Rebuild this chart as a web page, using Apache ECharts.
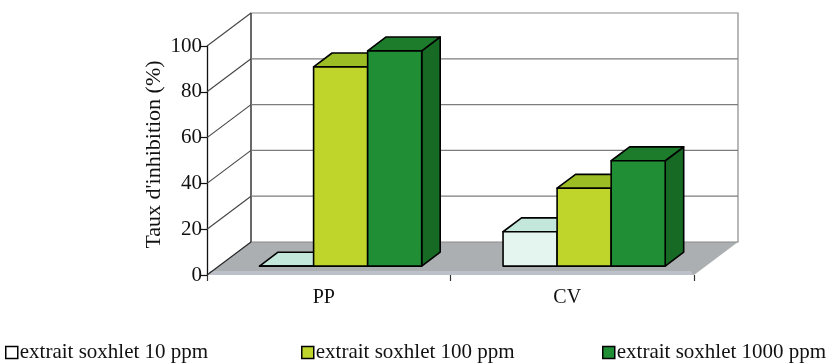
<!DOCTYPE html>
<html>
<head>
<meta charset="utf-8">
<script src="https://cdn.jsdelivr.net/npm/echarts@6/dist/echarts.min.js"></script>
<style>
  html, body { margin: 0; padding: 0; background: #ffffff; }
  #chart { width: 835px; height: 364px; }
</style>
</head>
<body>
<div id="chart"></div>
<script>
// Categories and inhibition rates (%) per extract concentration
const categories = ['PP', 'CV'];
const seriesNames = ['extrait soxhlet 10 ppm', 'extrait soxhlet 100 ppm', 'extrait soxhlet 1000 ppm'];
const values10 = [0, 15];
const values100 = [87, 34];
const values1000 = [94, 46];
const yTicks = [0, 20, 40, 60, 80, 100];

// Oblique 3D projection: pixel offset from the front plane to the back wall
const DEPTH_X = 44;
const DEPTH_Y = -33;
// Bars sit part-way into the depth and occupy a slice of it
const BAR_FRONT = 0.27;
const BAR_DEPTH = 0.42;
const BAR_FRAC = 0.222;

const FONT = '"Liberation Serif", "Times New Roman", serif';

// Face colours for each series: front, top, side
const faceColors = [
  { front: '#e4f4ef', top: '#c4e7dc', side: '#acd8ca' },
  { front: '#bfd52c', top: '#9dbd24', side: '#86a61c' },
  { front: '#1f8e34', top: '#1c7c2c', side: '#166a23' }
];

function wallsRenderer(params, api) {
  const cs = params.coordSys;
  const x0 = cs.x, x1 = cs.x + cs.width;
  const y0 = api.coord([0, 0])[1];
  const y100 = api.coord([0, 100])[1];
  const bx0 = x0 + DEPTH_X, bx1 = x1 + DEPTH_X;
  const children = [];
  // floor
  children.push({
    type: 'polygon',
    shape: { points: [[x0, y0], [x1, y0], [bx1, y0 + DEPTH_Y], [bx0, y0 + DEPTH_Y]] },
    style: { fill: '#abafb1', stroke: null }
  });
  children.push({
    type: 'polygon',
    shape: { points: [[x0 + 3, y0 - 4], [x1 - 3, y0 - 4], [x1 - 1, y0], [x0 + 1, y0]] },
    style: { fill: '#bcc0c9', stroke: null }
  });
  // back wall outline
  children.push({
    type: 'rect',
    shape: { x: bx0, y: y100 + DEPTH_Y, width: cs.width, height: y0 - y100 },
    style: { fill: null, stroke: '#8a8a8a', lineWidth: 1.2 }
  });
  children.push({
    type: 'line',
    shape: { x1: bx0, y1: y100 + DEPTH_Y, x2: bx0, y2: y0 + DEPTH_Y },
    style: { stroke: '#333', lineWidth: 1.2 }
  });
  // gridlines on the back wall and the side wall
  yTicks.forEach(function (v) {
    const y = api.coord([0, v])[1];
    if (v > 0 && v < 100) {
      children.push({
        type: 'line',
        shape: { x1: bx0, y1: y + DEPTH_Y, x2: bx1, y2: y + DEPTH_Y },
        style: { stroke: '#7c7c7c', lineWidth: 1.2 }
      });
    }
    children.push({
      type: 'line',
      shape: { x1: x0, y1: y, x2: bx0, y2: y + DEPTH_Y },
      style: { stroke: v === 0 ? '#222' : '#444', lineWidth: 1.1 }
    });
  });
  return { type: 'group', children: children };
}

function barRenderer(k) {
  return function (params, api) {
    const cat = api.value(0);
    const val = api.value(1);
    const base = api.coord([cat, 0]);
    const top = api.coord([cat, val]);
    const band = api.size([1, 0])[0];
    const bw = band * BAR_FRAC;
    const fx = base[0] - 1.5 * bw + k * bw + DEPTH_X * BAR_FRONT;
    const fy0 = base[1] + DEPTH_Y * BAR_FRONT;
    const fy1 = top[1] + DEPTH_Y * BAR_FRONT;
    const dx = DEPTH_X * BAR_DEPTH, dy = DEPTH_Y * BAR_DEPTH;
    const c = faceColors[k];
    const edge = { stroke: '#000', lineWidth: 1.6, lineJoin: 'round' };
    return {
      type: 'group',
      children: [
        {
          type: 'polygon',
          shape: { points: [[fx + bw, fy0], [fx + bw + dx, fy0 + dy], [fx + bw + dx, fy1 + dy], [fx + bw, fy1]] },
          style: Object.assign({ fill: c.side }, edge)
        },
        {
          type: 'polygon',
          shape: { points: [[fx, fy1], [fx + bw, fy1], [fx + bw + dx, fy1 + dy], [fx + dx, fy1 + dy]] },
          style: Object.assign({ fill: c.top }, edge)
        },
        {
          type: 'rect',
          shape: { x: fx, y: fy1, width: bw, height: fy0 - fy1 },
          style: Object.assign({ fill: c.front }, edge)
        }
      ]
    };
  };
}

const allValues = [values10, values100, values1000];
const legendLeft = [0, 296, 597];

const barSeries = allValues.map(function (vals, k) {
  return {
    type: 'custom',
    name: seriesNames[k],
    renderItem: barRenderer(k),
    coordinateSystem: 'cartesian2d',
    encode: { x: 0, y: 1 },
    data: vals.map(function (v, i) { return [i, v]; }),
    itemStyle: { color: faceColors[k].front },
    z: 3 + k,
    silent: true
  };
});

const chart = echarts.init(document.getElementById('chart'), null, { renderer: 'canvas' });
chart.setOption({
  backgroundColor: '#ffffff',
  animation: false,
  grid: { left: 207, right: 141, top: 46, bottom: 89 },
  xAxis: {
    type: 'category',
    data: categories,
    axisLine: { show: false },
    axisTick: { show: true, length: 6, lineStyle: { color: '#333', width: 1.2 } },
    axisLabel: { color: '#111', fontFamily: FONT, fontSize: 20, margin: 13, padding: [0, 10, 0, 0] },
    splitLine: { show: false }
  },
  yAxis: {
    type: 'value',
    min: 0,
    max: 100,
    interval: 20,
    name: "Taux d'inhibition (%)",
    nameLocation: 'middle',
    nameGap: 42,
    nameMoveOverlap: false,
    nameRotate: 90,
    nameTextStyle: { color: '#111', fontFamily: FONT, fontSize: 22, padding: [0, 0, 0, 12] },
    axisLine: { show: true, lineStyle: { color: '#111', width: 1.3 } },
    axisTick: { show: true, length: 6, lineStyle: { color: '#111', width: 1.2 } },
    axisLabel: { color: '#111', fontFamily: FONT, fontSize: 21, margin: 5 },
    splitLine: { show: false }
  },
  legend: seriesNames.map(function (name, k) {
    return {
      left: legendLeft[k],
      top: 337,
      itemWidth: 12,
      itemHeight: 12,
      icon: 'rect',
      selectedMode: false,
      data: [{ name: name, itemStyle: { color: k === 0 ? '#ffffff' : faceColors[k].front, borderColor: '#000', borderWidth: 1.5 } }],
      textStyle: { color: '#111', fontFamily: FONT, fontSize: 21, padding: [0, 0, 0, -3] }
    };
  }),
  series: [{
    type: 'custom',
    name: 'walls',
    renderItem: wallsRenderer,
    coordinateSystem: 'cartesian2d',
    data: [[0, 0]],
    z: 1,
    silent: true
  }].concat(barSeries)
});
</script>
</body>
</html>
